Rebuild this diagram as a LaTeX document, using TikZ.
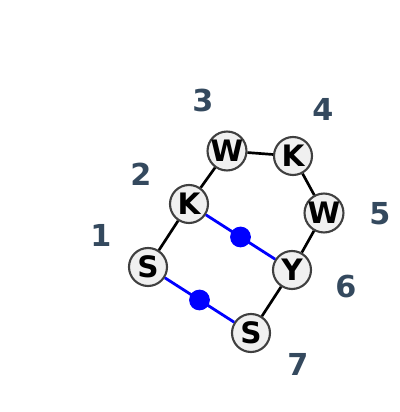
\documentclass[tikz,border=0pt]{standalone}
\usepackage{fontspec}
\setmainfont{DejaVu Sans}
\definecolor{ringgray}{HTML}{404040}
\definecolor{fillgray}{HTML}{F0F0F0}
\definecolor{labelblue}{HTML}{34495E}
\begin{document}
\begin{tikzpicture}[line width=1.9pt]
\tikzstyle{vertex}=[draw=ringgray, line width=1.5pt, circle, fill=fillgray, inner sep=0pt, minimum size=0.95cm, font=\fontsize{21}{22}\bfseries]
\tikzstyle{index}=[text=labelblue, font=\fontsize{21.5}{23}\bfseries]
\tikzstyle{pair}=[blue, line width=2pt]
\tikzstyle{dot}=[circle, fill=blue, inner sep=0pt, minimum size=0.52cm]

\useasboundingbox (0,0) rectangle (10,10.3);

\node[vertex] (S1) at (3.700, 3.625) {S};
\node[vertex] (K2) at (4.725, 5.200) {K};
\node[vertex] (W3) at (5.675, 6.525) {W};
\node[vertex] (K4) at (7.325, 6.400) {K};
\node[vertex] (W5) at (8.100, 4.975) {W};
\node[vertex] (Y6) at (7.300, 3.550) {Y};
\node[vertex] (S7) at (6.275, 1.975) {S};

\node[index] (n1) at (2.525, 4.425) {1};
\node[index] (n2) at (3.525, 5.950) {2};
\node[index] (n3) at (5.075, 7.800) {3};
\node[index] (n4) at (8.075, 7.575) {4};
\node[index] (n5) at (9.500, 4.950) {5};
\node[index] (n6) at (8.650, 3.125) {6};
\node[index] (n7) at (7.450, 1.200) {7};

\draw (S1) -- (K2);
\draw (K2) -- (W3);
\draw (W3) -- (K4);
\draw (K4) -- (W5);
\draw (W5) -- (Y6);
\draw (Y6) -- (S7);

\draw[pair] (K2) -- (Y6)
    node [dot, midway] (d1) {};
\draw[pair] (S1) -- (S7)
    node [dot, midway] (d2) {};
\end{tikzpicture}
\end{document}
